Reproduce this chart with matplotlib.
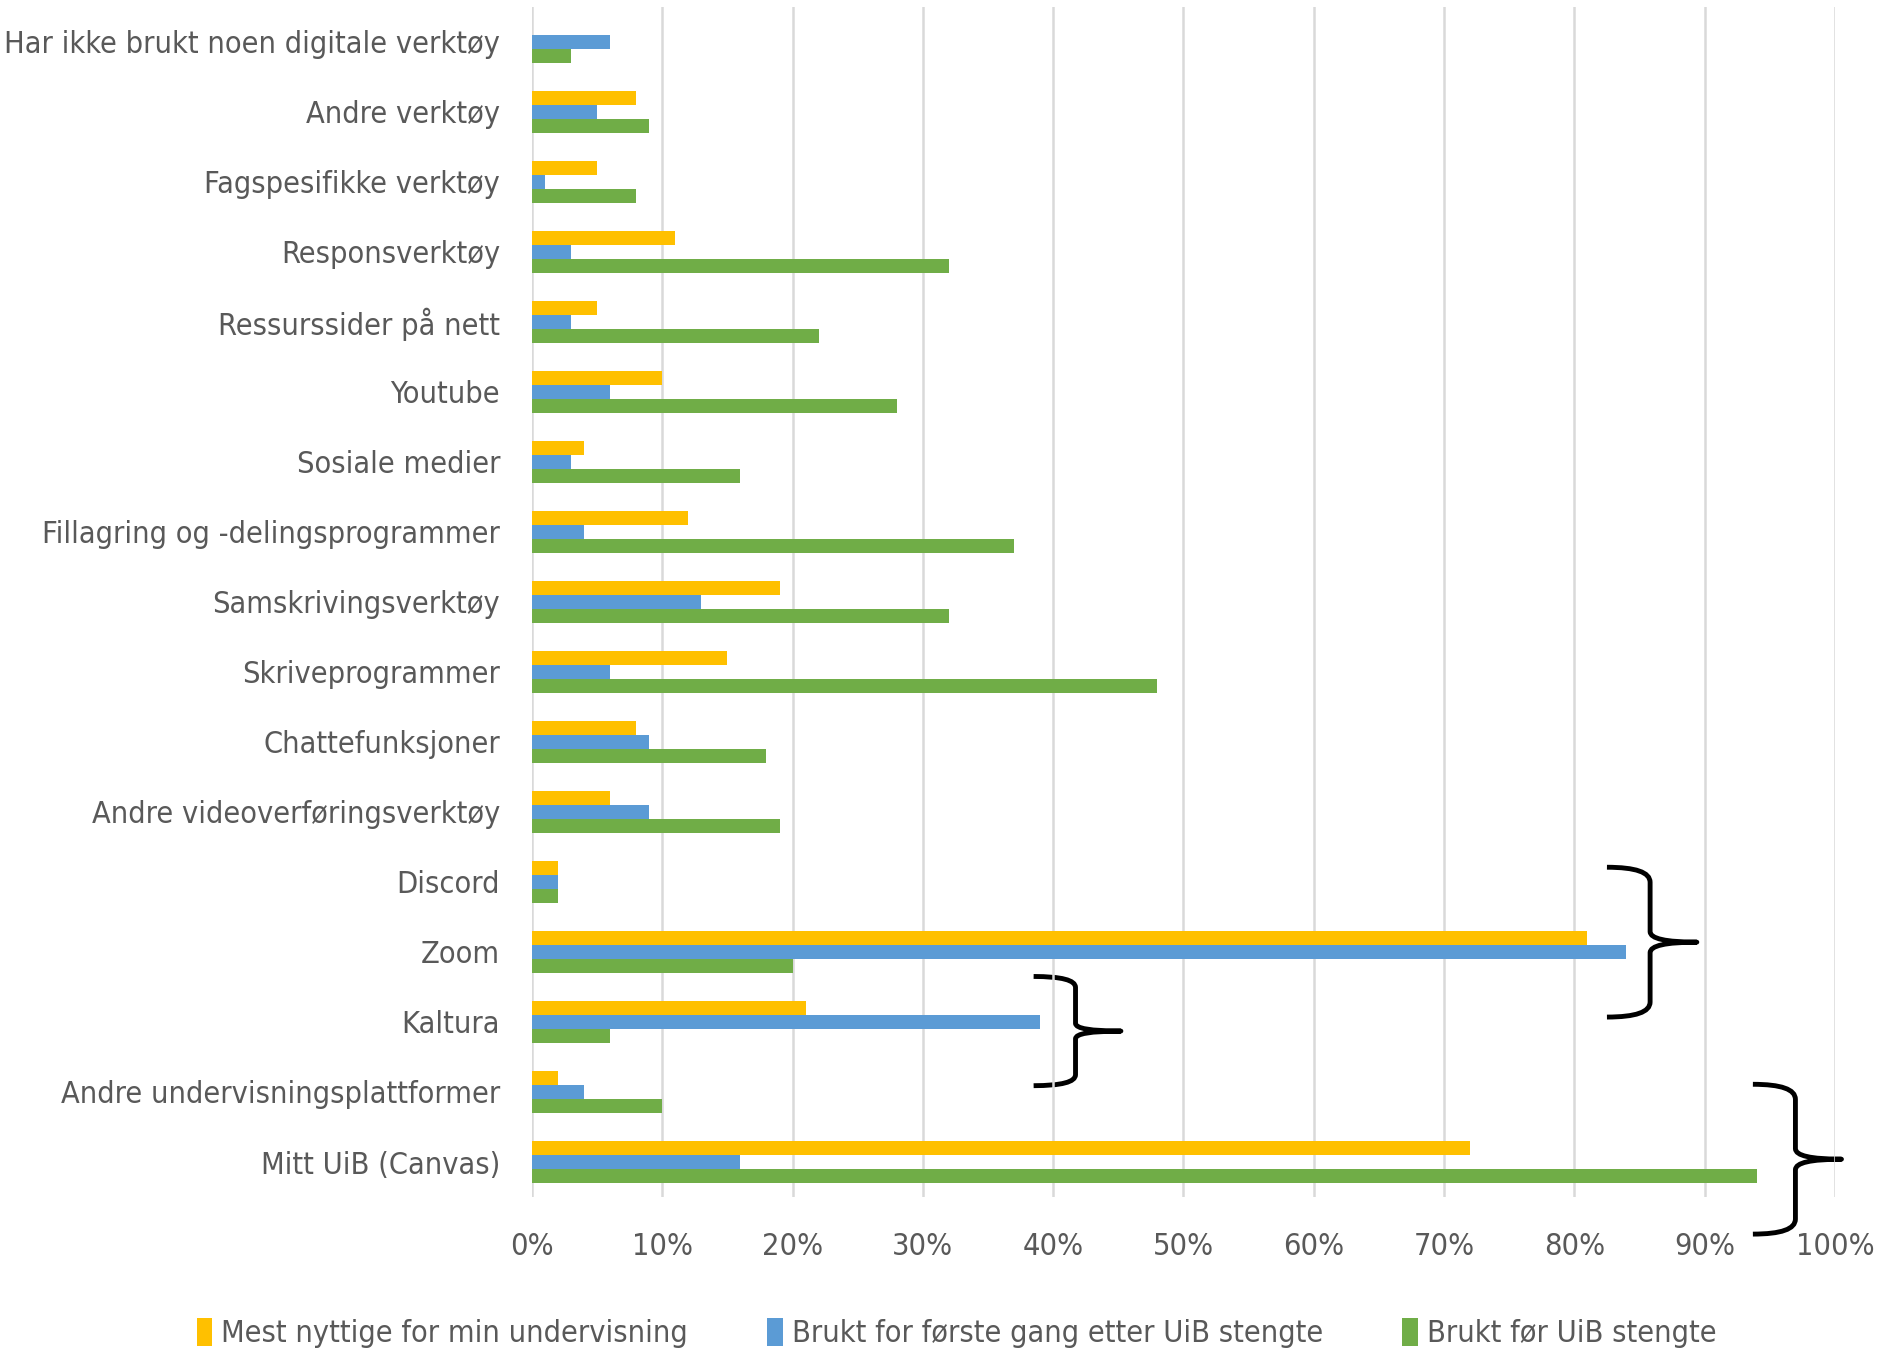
import numpy as np
import matplotlib
matplotlib.use('Agg')
import matplotlib.pyplot as plt
from matplotlib.path import Path
from matplotlib.patches import PathPatch

# Data (percent), categories listed top to bottom
categories = [
    'Har ikke brukt noen digitale verktøy',
    'Andre verktøy',
    'Fagspesifikke verktøy',
    'Responsverktøy',
    'Ressurssider på nett',
    'Youtube',
    'Sosiale medier',
    'Fillagring og -delingsprogrammer',
    'Samskrivingsverktøy',
    'Skriveprogrammer',
    'Chattefunksjoner',
    'Andre videoverføringsverktøy',
    'Discord',
    'Zoom',
    'Kaltura',
    'Andre undervisningsplattformer',
    'Mitt UiB (Canvas)',
]
mest_nyttige = [0, 8, 5, 11, 5, 10, 4, 12, 19, 15, 8, 6, 2, 81, 21, 2, 72]
brukt_forste_gang = [6, 5, 1, 3, 3, 6, 3, 4, 13, 6, 9, 9, 2, 84, 39, 4, 16]
brukt_for = [3, 9, 8, 32, 22, 28, 16, 37, 32, 48, 18, 19, 2, 20, 6, 10, 94]
series_names = ['Mest nyttige for min undervisning',
                'Brukt for første gang etter UiB stengte',
                'Brukt før UiB stengte']
colors = ['#FFC000', '#5B9BD5', '#70AD47']

FONT = ['DejaVu Sans']
TXT = '#595959'
FS = 22


def brace(ax, x0, x1, y0, y1, ym):
    # curly brace opening to the left, tip pointing right
    xs = x0 + 0.48 * (x1 - x0)
    h = y1 - y0
    verts = [(x0, y0), (xs, y0), (xs, y0 + 0.1 * h),
             (xs, ym - 0.07 * h),
             (xs, ym), (x1, ym),
             (xs, ym), (xs, ym + 0.07 * h),
             (xs, y1 - 0.1 * h),
             (xs, y1), (x0, y1)]
    codes = [Path.MOVETO, Path.CURVE3, Path.CURVE3,
             Path.LINETO,
             Path.CURVE3, Path.CURVE3,
             Path.CURVE3, Path.CURVE3,
             Path.LINETO,
             Path.CURVE3, Path.CURVE3]
    ax.add_patch(PathPatch(Path(verts, codes), fill=False, lw=3.5,
                           edgecolor='black', clip_on=False,
                           capstyle='butt', joinstyle='round'))


fig = plt.figure(figsize=(18.83, 13.55), dpi=100)
ax = fig.add_axes([0.2825, 0.1166, 0.692, 0.8784])

y = np.arange(len(categories))
h = 0.2
ax.barh(y - h, mest_nyttige, height=h, color=colors[0], label=series_names[0], zorder=3)
ax.barh(y, brukt_forste_gang, height=h, color=colors[1], label=series_names[1], zorder=3)
ax.barh(y + h, brukt_for, height=h, color=colors[2], label=series_names[2], zorder=3)

ax.set_ylim(len(categories) - 0.5, -0.5)
ax.set_xlim(0, 100)
ax.set_xticks(np.arange(0, 101, 10))
ax.set_xticklabels([f'{v}%' for v in range(0, 101, 10)])
ax.set_yticks(y)
ax.set_yticklabels(categories)
ax.tick_params(axis='both', length=0, colors=TXT, labelsize=FS)
ax.tick_params(axis='x', pad=25)
ax.tick_params(axis='y', pad=23)
for lab in ax.get_xticklabels() + ax.get_yticklabels():
    lab.set_family(FONT)
    lab.set_stretch('condensed')
ax.grid(axis='x', color='#d9d9d9', lw=1.8, zorder=0)
for s in ax.spines.values():
    s.set_visible(False)

brace(ax, 82.5, 89.4, 11.79, 13.93, 12.86)
brace(ax, 38.5, 45.2, 13.35, 14.91, 14.13)
brace(ax, 93.7, 100.5, 14.89, 17.03, 15.96)

leg = fig.legend(loc='center', bbox_to_anchor=(0.508, 0.016), ncol=3, frameon=False,
                 handlelength=0.5, handleheight=1.0, handletextpad=0.3, columnspacing=2.6,
                 prop={'family': FONT, 'size': FS, 'stretch': 'condensed'})
for t in leg.get_texts():
    t.set_color(TXT)

fig.savefig('out.png', dpi=100)
